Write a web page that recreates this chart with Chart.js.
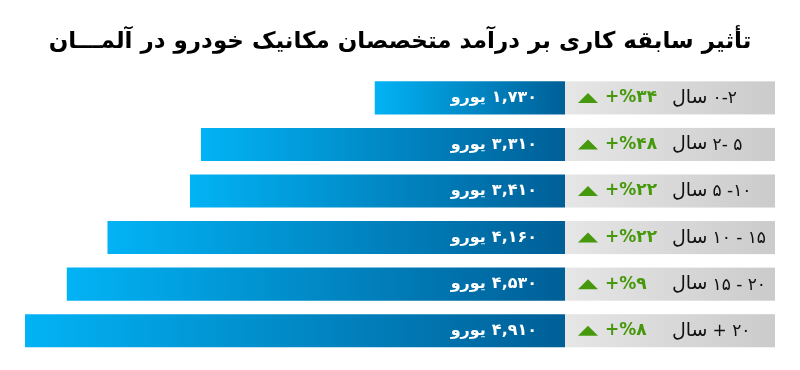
<!DOCTYPE html>
<html lang="fa">
<head>
<meta charset="utf-8">
<script src="https://cdn.jsdelivr.net/npm/chart.js@4/dist/chart.umd.min.js"></script>
<style>
  html,body{margin:0;padding:0;background:#ffffff;}
  #wrap{width:800px;height:370px;position:relative;}
</style>
</head>
<body>
<div id="wrap"><canvas id="c" width="800" height="370"></canvas></div>
<script>
const titleText = 'تأثیر سابقه کاری بر درآمد متخصصان مکانیک خودرو در آلمـــان';
const ranges = ['۰-۲', '۲- ۵', '۵ -۱۰', '۱۰ - ۱۵', '۱۵ - ۲۰', '+ ۲۰'];
const unit = 'سال';
const categories = ranges.map(r => r + ' ' + unit);
const salaries = [1730, 3310, 3410, 4160, 4530, 4910];
const growth = [34, 48, 22, 22, 9, 8];
const currency = 'یورو';

const faDigits = '۰۱۲۳۴۵۶۷۸۹';
function toFa(s){ return String(s).replace(/[0-9]/g, d => faDigits[+d]); }
function fmtNum(v){ return toFa(v.toLocaleString('en-US')); }
function fmtGrowth(g){ return '+%' + toFa(g); }

const FA = '"DejaVu Sans", sans-serif';
const PANEL_W = 210;

const sidePanel = {
  id: 'sidePanel',
  afterDatasetsDraw(chart){
    const {ctx, chartArea, scales} = chart;
    const meta = chart.getDatasetMeta(0);
    const x0 = chartArea.right;
    const w = PANEL_W;
    meta.data.forEach((bar, i) => {
      const y = scales.y.getPixelForValue(i);
      const h = bar.height;
      const top = y - h/2;
      ctx.save();
      const g = ctx.createLinearGradient(x0, 0, x0 + w, 0);
      g.addColorStop(0, '#e6e6e6');
      g.addColorStop(1, '#cbcbcb');
      ctx.fillStyle = g;
      ctx.fillRect(x0, top, w, h);
      ctx.textBaseline = 'middle';
      ctx.direction = 'ltr';
      // category label: word on the left, range to its right
      ctx.fillStyle = '#111111';
      ctx.textAlign = 'left';
      ctx.font = '19px ' + FA;
      const xs = x0 + 107;
      ctx.fillText(unit, xs, y);
      const uw = ctx.measureText(unit).width;
      ctx.font = '17px ' + FA;
      ctx.fillText(ranges[i], xs + uw + 5, y + 1);
      // growth
      ctx.fillStyle = '#46980c';
      ctx.font = 'bold 17px ' + FA;
      ctx.textAlign = 'left';
      ctx.fillText(fmtGrowth(growth[i]), x0 + 40, y);
      // triangle
      ctx.beginPath();
      ctx.moveTo(x0 + 13, y + 5);
      ctx.lineTo(x0 + 33, y + 5);
      ctx.lineTo(x0 + 23, y - 5);
      ctx.closePath();
      ctx.fill();
      // value label inside bar: number right-aligned, currency to its left
      ctx.fillStyle = '#ffffff';
      ctx.font = 'bold 16px ' + FA;
      ctx.textAlign = 'right';
      const num = fmtNum(salaries[i]);
      const xr = x0 - 28;
      ctx.fillText(num, xr, y);
      const nw = ctx.measureText(num).width;
      ctx.fillText(currency, xr - nw - 6, y);
      ctx.restore();
    });
  }
};

new Chart(document.getElementById('c'), {
  type: 'bar',
  data: {
    labels: categories,
    datasets: [{
      data: salaries,
      borderWidth: 0,
      borderSkipped: false,
      categoryPercentage: 1,
      barPercentage: 0.71,
      backgroundColor: (c) => {
        const chart = c.chart;
        const sx = chart.scales && chart.scales.x;
        if (!sx || c.type !== 'data') return '#008ac7';
        const xa = sx.getPixelForValue(c.raw);
        const xb = sx.getPixelForValue(0);
        if (!isFinite(xa) || !isFinite(xb)) return '#008ac7';
        const g = chart.ctx.createLinearGradient(xa, 0, xb, 0);
        g.addColorStop(0, '#02b3f5');
        g.addColorStop(1, '#005f97');
        return g;
      }
    }]
  },
  options: {
    indexAxis: 'y',
    responsive: false,
    animation: false,
    events: [],
    layout: { padding: { left: 25, right: 25, top: 0, bottom: 16 } },
    scales: {
      x: { display: false, reverse: true, min: 0, max: Math.max(...salaries) },
      y: {
        position: 'right',
        display: true,
        grid: { display: false, drawTicks: false },
        border: { display: false },
        ticks: { display: false },
        afterFit: (s) => { s.width = PANEL_W; }
      }
    },
    plugins: {
      legend: { display: false },
      tooltip: { enabled: false },
      title: {
        display: true,
        text: titleText,
        color: '#000000',
        font: { family: FA, size: 23, weight: 'bold' },
        padding: { top: 28, bottom: 19 }
      }
    }
  },
  plugins: [sidePanel]
});
</script>
</body>
</html>
